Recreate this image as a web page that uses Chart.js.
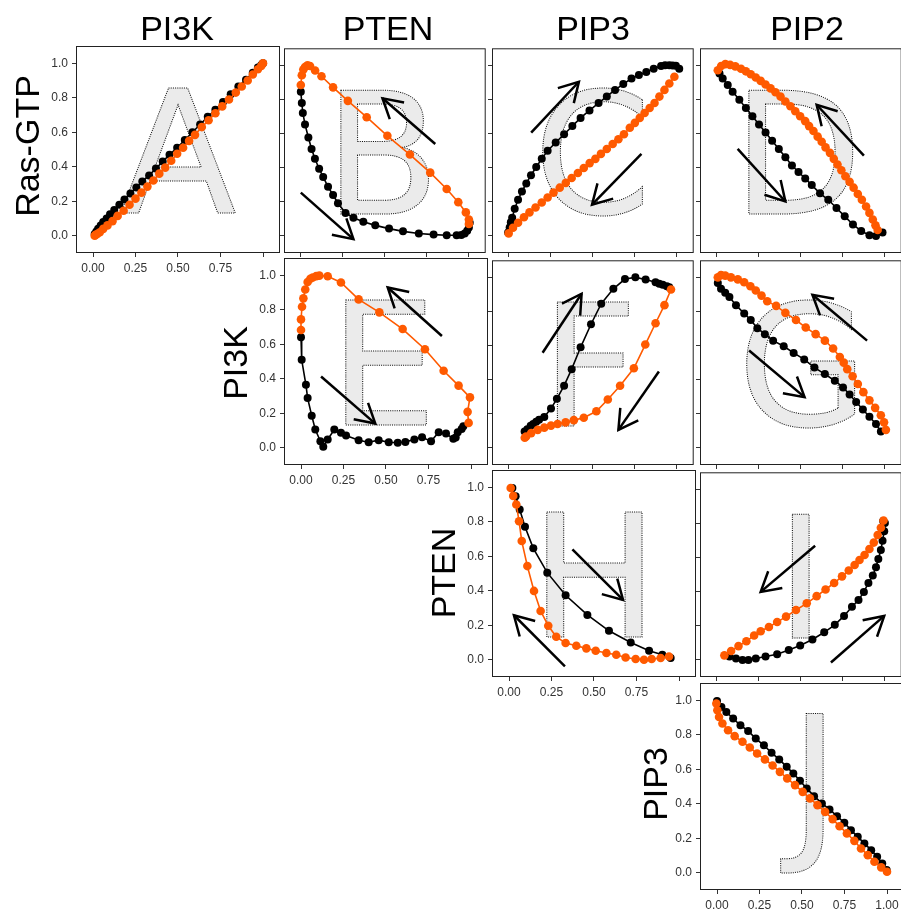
<!DOCTYPE html>
<html>
<head>
<meta charset="utf-8">
<script src="https://cdn.jsdelivr.net/npm/chart.js@4.4.1/dist/chart.umd.min.js"></script>
<style>
  body { margin: 0; background: #fff; width: 901px; height: 910px; overflow: hidden; position: relative; }
  canvas { position: absolute; }
  .lab { position: absolute; width: 200px; height: 40px; line-height: 40px; text-align: center;
         font-family: "Liberation Sans", Arial, sans-serif; font-size: 34px; color: #000; white-space: nowrap; }
</style>
</head>
<body>
<script>
'use strict';
// names
var colNames = ['PI3K', 'PTEN', 'PIP3', 'PIP2'];
var rowNames = ['Ras-GTP', 'PI3K', 'PTEN', 'PIP3'];
var letters = ['A', 'B', 'C', 'D', 'E', 'F', 'G', 'H', 'I', 'J'];

// ticks
var xTicks = [0, 0.25, 0.5, 0.75, 1];
var xTickLabels = ['0.00', '0.25', '0.50', '0.75', '1.00'];
var yTicks = [0, 0.2, 0.4, 0.6, 0.8, 1];
var yTickLabels = ['0.0', '0.2', '0.4', '0.6', '0.8', '1.0'];

// series values [x, y]
var aBlack = [[0.01,0.01],[0.02,0.025],[0.03,0.04],[0.045,0.06],[0.06,0.08],[0.08,0.10],[0.10,0.125],[0.125,0.15],[0.155,0.18],[0.185,0.21],[0.22,0.245],[0.255,0.28],[0.29,0.315],[0.33,0.35],[0.37,0.39],[0.41,0.43],[0.45,0.47],[0.495,0.51],[0.54,0.555],[0.585,0.6],[0.63,0.645],[0.675,0.69],[0.72,0.73],[0.765,0.775],[0.81,0.82],[0.855,0.865],[0.9,0.905],[0.94,0.945],[0.97,0.975],[0.99,0.99],[1.0,1.0]];
var aOrange = [[1.0,1.0],[0.99,0.985],[0.97,0.965],[0.94,0.935],[0.91,0.9],[0.875,0.865],[0.84,0.83],[0.8,0.79],[0.76,0.75],[0.72,0.71],[0.68,0.67],[0.64,0.63],[0.6,0.585],[0.565,0.55],[0.53,0.51],[0.495,0.475],[0.46,0.435],[0.425,0.395],[0.39,0.36],[0.355,0.32],[0.32,0.285],[0.285,0.25],[0.25,0.215],[0.215,0.18],[0.18,0.145],[0.145,0.115],[0.115,0.085],[0.085,0.06],[0.06,0.04],[0.04,0.02],[0.025,0.01],[0.015,0.005],[0.01,0.0]];

var bBlack = [[0.0,0.846],[0.006,0.779],[0.012,0.721],[0.025,0.654],[0.045,0.577],[0.064,0.51],[0.084,0.452],[0.109,0.394],[0.133,0.346],[0.162,0.288],[0.192,0.24],[0.221,0.192],[0.266,0.135],[0.313,0.106],[0.372,0.083],[0.443,0.062],[0.525,0.043],[0.608,0.027],[0.702,0.014],[0.79,0.008],[0.868,0.004],[0.927,0.004],[0.955,0.006],[0.975,0.015],[0.99,0.03],[1.0,0.05],[1.005,0.077]];
var bOrange = [[0.0,0.885],[0.006,0.942],[0.015,0.975],[0.025,0.99],[0.04,1.0],[0.055,0.996],[0.085,0.97],[0.123,0.936],[0.192,0.871],[0.28,0.792],[0.392,0.696],[0.515,0.587],[0.649,0.477],[0.77,0.371],[0.868,0.275],[0.937,0.198],[0.982,0.138],[1.0,0.096],[1.0,0.07]];

var cBlack = [[-0.004,0.02],[0.005,0.05],[0.012,0.08],[0.02,0.106],[0.035,0.16],[0.055,0.212],[0.078,0.26],[0.104,0.308],[0.132,0.356],[0.163,0.404],[0.196,0.452],[0.231,0.5],[0.279,0.548],[0.329,0.596],[0.378,0.644],[0.427,0.692],[0.48,0.736],[0.534,0.779],[0.583,0.818],[0.632,0.856],[0.681,0.89],[0.73,0.923],[0.774,0.944],[0.818,0.961],[0.862,0.98],[0.906,0.996],[0.93,1.0],[0.955,1.0],[0.975,0.999],[0.994,0.998],[1.014,0.98]];
var cOrange = [[0.985,0.933],[0.955,0.894],[0.926,0.856],[0.896,0.817],[0.867,0.779],[0.838,0.75],[0.808,0.721],[0.779,0.692],[0.75,0.663],[0.72,0.634],[0.685,0.596],[0.652,0.567],[0.618,0.539],[0.583,0.51],[0.548,0.481],[0.515,0.452],[0.481,0.427],[0.446,0.398],[0.411,0.369],[0.374,0.34],[0.339,0.311],[0.303,0.283],[0.266,0.254],[0.231,0.225],[0.196,0.196],[0.159,0.167],[0.123,0.138],[0.09,0.11],[0.055,0.077],[0.025,0.048],[-0.001,0.015]];

var dBlack = [[0.016,0.952],[0.035,0.923],[0.065,0.885],[0.094,0.846],[0.134,0.798],[0.173,0.75],[0.212,0.702],[0.251,0.654],[0.29,0.606],[0.329,0.558],[0.369,0.51],[0.408,0.461],[0.447,0.413],[0.486,0.375],[0.526,0.337],[0.565,0.298],[0.614,0.25],[0.663,0.212],[0.712,0.164],[0.761,0.115],[0.81,0.067],[0.859,0.029],[0.908,0.004],[0.947,0.0],[0.986,0.02]];
var dOrange = [[0.006,0.971],[0.026,0.996],[0.051,1.007],[0.079,1.003],[0.11,0.994],[0.144,0.98],[0.173,0.965],[0.202,0.948],[0.232,0.929],[0.261,0.909],[0.29,0.888],[0.32,0.865],[0.349,0.842],[0.379,0.817],[0.408,0.788],[0.438,0.76],[0.467,0.731],[0.496,0.702],[0.526,0.673],[0.549,0.644],[0.575,0.615],[0.6,0.582],[0.624,0.552],[0.647,0.519],[0.673,0.487],[0.696,0.452],[0.718,0.419],[0.741,0.385],[0.765,0.35],[0.79,0.317],[0.814,0.283],[0.839,0.246],[0.863,0.212],[0.888,0.173],[0.908,0.135],[0.928,0.096],[0.944,0.062],[0.957,0.035]];

var eBlack = [[0.0,0.64],[0.004,0.51],[0.029,0.365],[0.039,0.288],[0.063,0.186],[0.084,0.106],[0.114,0.038],[0.131,0.006],[0.157,0.048],[0.196,0.106],[0.235,0.087],[0.265,0.071],[0.339,0.044],[0.398,0.032],[0.457,0.044],[0.516,0.032],[0.569,0.029],[0.614,0.034],[0.667,0.048],[0.712,0.061],[0.765,0.038],[0.81,0.09],[0.853,0.082],[0.896,0.052],[0.91,0.06],[0.922,0.09],[0.945,0.109],[0.955,0.125]];
var eOrange = [[0.0,0.683],[0.0,0.744],[0.006,0.817],[0.014,0.866],[0.025,0.917],[0.039,0.961],[0.055,0.98],[0.069,0.987],[0.09,0.995],[0.108,0.998],[0.157,0.994],[0.235,0.958],[0.339,0.86],[0.461,0.785],[0.598,0.688],[0.729,0.571],[0.839,0.446],[0.927,0.36],[0.994,0.292],[0.98,0.208],[0.986,0.144]];

var fBlack = [[0.094,0.096],[0.11,0.11],[0.13,0.13],[0.145,0.14],[0.163,0.154],[0.18,0.165],[0.211,0.182],[0.251,0.231],[0.286,0.288],[0.329,0.365],[0.374,0.462],[0.427,0.59],[0.489,0.725],[0.55,0.846],[0.622,0.933],[0.691,0.99],[0.753,1.0],[0.814,0.987],[0.873,0.971],[0.895,0.962],[0.916,0.956],[0.94,0.948],[0.955,0.942]];
var fOrange = [[0.965,0.929],[0.926,0.837],[0.873,0.731],[0.812,0.606],[0.744,0.467],[0.662,0.365],[0.589,0.284],[0.521,0.215],[0.446,0.177],[0.387,0.163],[0.338,0.15],[0.29,0.14],[0.251,0.131],[0.211,0.119],[0.172,0.106],[0.133,0.087],[0.103,0.067],[0.095,0.06]];

var gBlack = [[0.006,0.967],[0.025,0.933],[0.05,0.91],[0.075,0.885],[0.114,0.837],[0.163,0.788],[0.202,0.75],[0.241,0.702],[0.286,0.667],[0.335,0.629],[0.398,0.596],[0.457,0.557],[0.52,0.519],[0.581,0.471],[0.643,0.433],[0.702,0.394],[0.751,0.355],[0.79,0.313],[0.829,0.269],[0.869,0.225],[0.908,0.183],[0.947,0.14],[0.976,0.096]];
var gOrange = [[0.006,1.0],[0.025,1.013],[0.05,1.01],[0.084,1.0],[0.125,0.988],[0.163,0.971],[0.2,0.948],[0.232,0.923],[0.266,0.893],[0.3,0.86],[0.353,0.833],[0.408,0.792],[0.471,0.75],[0.529,0.706],[0.588,0.667],[0.643,0.629],[0.692,0.583],[0.732,0.533],[0.755,0.5],[0.776,0.462],[0.808,0.42],[0.839,0.375],[0.872,0.327],[0.908,0.279],[0.942,0.235],[0.976,0.192],[0.995,0.15],[1.006,0.106]];

var hBlack = [[0.02,0.996],[0.039,0.948],[0.063,0.871],[0.094,0.771],[0.143,0.646],[0.225,0.505],[0.333,0.374],[0.461,0.26],[0.588,0.168],[0.716,0.1],[0.824,0.052],[0.902,0.029],[0.951,0.01]];
var hOrange = [[0.01,0.996],[0.025,0.95],[0.043,0.9],[0.059,0.803],[0.075,0.688],[0.108,0.543],[0.147,0.399],[0.186,0.283],[0.231,0.197],[0.278,0.133],[0.333,0.097],[0.396,0.081],[0.455,0.066],[0.51,0.052],[0.573,0.039],[0.631,0.029],[0.686,0.013],[0.745,0.004],[0.794,0.0],[0.839,0.004],[0.892,0.01],[0.941,0.019]];

var iBlack = [[0.075,0.02],[0.114,0.008],[0.153,0.0],[0.188,0.0],[0.232,0.008],[0.29,0.02],[0.359,0.033],[0.428,0.058],[0.496,0.085],[0.569,0.12],[0.639,0.162],[0.702,0.206],[0.757,0.258],[0.804,0.312],[0.843,0.351],[0.875,0.399],[0.902,0.451],[0.928,0.495],[0.947,0.543],[0.961,0.592],[0.976,0.644],[0.986,0.698],[0.996,0.755],[1.0,0.803],[0.99,0.815]];
var iOrange = [[0.045,0.027],[0.085,0.052],[0.129,0.081],[0.176,0.11],[0.222,0.143],[0.261,0.168],[0.31,0.193],[0.359,0.222],[0.412,0.254],[0.471,0.293],[0.535,0.332],[0.594,0.374],[0.647,0.413],[0.698,0.451],[0.745,0.49],[0.785,0.524],[0.82,0.557],[0.849,0.586],[0.879,0.615],[0.908,0.65],[0.934,0.688],[0.957,0.732],[0.976,0.775],[0.992,0.817]];

var jBlack = [[0.0,0.996],[0.026,0.961],[0.055,0.932],[0.095,0.894],[0.138,0.855],[0.183,0.822],[0.228,0.778],[0.276,0.739],[0.321,0.695],[0.366,0.657],[0.41,0.614],[0.449,0.576],[0.488,0.533],[0.528,0.489],[0.571,0.444],[0.617,0.402],[0.662,0.367],[0.706,0.328],[0.749,0.29],[0.788,0.247],[0.828,0.208],[0.867,0.17],[0.907,0.131],[0.942,0.093],[0.972,0.054],[0.998,0.016]];
var jOrange = [[-0.004,0.981],[0.002,0.942],[0.012,0.903],[0.032,0.865],[0.065,0.826],[0.104,0.792],[0.15,0.759],[0.193,0.726],[0.236,0.691],[0.282,0.657],[0.327,0.622],[0.37,0.585],[0.413,0.547],[0.459,0.508],[0.504,0.469],[0.547,0.431],[0.591,0.392],[0.636,0.353],[0.68,0.311],[0.721,0.27],[0.764,0.228],[0.808,0.185],[0.847,0.141],[0.887,0.102],[0.926,0.064],[0.966,0.031],[1.0,0.006]];

// arrows [x0, y0, x1, y1], head at (x1, y1)
var bArrows = [[0.8,0.539,0.486,0.807],[0.0,0.254,0.313,-0.019]];
var cArrows = [[0.133,0.606,0.417,0.904],[0.789,0.481,0.495,0.183]];
var dArrows = [[0.875,0.471,0.594,0.769],[0.124,0.51,0.408,0.202]];
var eArrows = [[0.829,0.648,0.51,0.929],[0.118,0.413,0.437,0.14]];
var fArrows = [[0.201,0.558,0.433,0.904],[0.893,0.448,0.652,0.106]];
var gArrows = [[0.894,0.629,0.569,0.898],[0.192,0.571,0.522,0.298]];
var hArrows = [[0.373,0.64,0.671,0.347],[0.329,-0.038,0.029,0.258]];
var iArrows = [[0.585,0.669,0.261,0.399],[0.679,-0.015,0.996,0.258]];

// layout
var FONT = '"Liberation Sans", Arial, sans-serif';
var LETTER_FONT = '"DejaVu Sans", sans-serif';
var W = 204, H = 207;
var colLeft = [76, 284, 492, 700];
var rowTop = [46, 258, 470, 683];
var colTitleX = [177, 388, 593, 807];
var rowLabelX = [27, 235, 443, 655];
var rowLabelY = [146, 363, 573, 784];

var panels = [
  {row: 0, col: 0, black: aBlack, orange: aOrange, arrows: []},
  {row: 0, col: 1, black: bBlack, orange: bOrange, arrows: bArrows},
  {row: 0, col: 2, black: cBlack, orange: cOrange, arrows: cArrows},
  {row: 0, col: 3, black: dBlack, orange: dOrange, arrows: dArrows},
  {row: 1, col: 1, black: eBlack, orange: eOrange, arrows: eArrows},
  {row: 1, col: 2, black: fBlack, orange: fOrange, arrows: fArrows},
  {row: 1, col: 3, black: gBlack, orange: gOrange, arrows: gArrows},
  {row: 2, col: 2, black: hBlack, orange: hOrange, arrows: hArrows},
  {row: 2, col: 3, black: iBlack, orange: iOrange, arrows: iArrows},
  {row: 3, col: 3, black: jBlack, orange: jOrange, arrows: []}
];

Chart.defaults.font.family = FONT;
Chart.defaults.font.size = 12;
Chart.defaults.color = '#333';

// big letter, arrows, white cover and box
var decor = {
  id: 'decor',
  beforeDraw: function (chart, args, o) {
    if (!o.cover) return;
    var ctx = chart.ctx;
    ctx.save();
    ctx.fillStyle = '#fff';
    ctx.fillRect(0, chart.chartArea.top - 1, chart.width, chart.height);
    ctx.restore();
  },
  beforeDatasetsDraw: function (chart, args, o) {
    var ctx = chart.ctx, xs = chart.scales.x, ys = chart.scales.y, a = chart.chartArea;
    ctx.save();
    ctx.beginPath();
    ctx.rect(a.left, a.top, a.right - a.left, a.bottom - a.top);
    ctx.clip();

    var isJ = o.letter === 'J';
    var fit = isJ ? [0.0, 0.92] : [0.13, 0.855];
    ctx.font = '100px ' + LETTER_FONT;
    var ref = ctx.measureText(isJ ? 'J' : 'H');
    var k = (ref.actualBoundingBoxAscent + ref.actualBoundingBoxDescent) / 100;
    var yb = ys.getPixelForValue(fit[0]), yt = ys.getPixelForValue(fit[1]);
    var size = (yb - yt) / k;
    ctx.font = size + 'px ' + LETTER_FONT;
    var m = ctx.measureText(o.letter);
    var base = yb - (isJ ? m.actualBoundingBoxDescent : 0);
    var x0 = xs.getPixelForValue(0.5) - (m.actualBoundingBoxRight - m.actualBoundingBoxLeft) / 2;
    ctx.textAlign = 'left';
    ctx.textBaseline = 'alphabetic';
    ctx.fillStyle = '#ebebeb';
    ctx.fillText(o.letter, x0, base);
    ctx.setLineDash([1, 1.2]);
    ctx.lineWidth = 1;
    ctx.strokeStyle = '#000';
    ctx.strokeText(o.letter, x0, base);

    ctx.setLineDash([]);
    ctx.strokeStyle = '#000';
    ctx.lineWidth = 2.5;
    o.arrows.forEach(function (ar) {
      var px0 = xs.getPixelForValue(ar[0]), py0 = ys.getPixelForValue(ar[1]);
      var px1 = xs.getPixelForValue(ar[2]), py1 = ys.getPixelForValue(ar[3]);
      var ang = Math.atan2(py1 - py0, px1 - px0);
      ctx.beginPath();
      ctx.moveTo(px0, py0);
      ctx.lineTo(px1, py1);
      ctx.stroke();
      ctx.beginPath();
      ctx.moveTo(px1 - 22 * Math.cos(ang - 0.52), py1 - 22 * Math.sin(ang - 0.52));
      ctx.lineTo(px1, py1);
      ctx.lineTo(px1 - 22 * Math.cos(ang + 0.52), py1 - 22 * Math.sin(ang + 0.52));
      ctx.stroke();
    });
    ctx.restore();
  },
  afterDraw: function (chart) {
    var ctx = chart.ctx, a = chart.chartArea;
    ctx.save();
    ctx.strokeStyle = '#222';
    ctx.lineWidth = 1;
    ctx.strokeRect(a.left + 0.5, a.top + 0.5, a.right - a.left - 1, a.bottom - a.top - 1);
    ctx.restore();
  }
};

function axis(vals, labels, showLabels, size) {
  return {
    type: 'linear', min: -0.1, max: 1.1,
    afterBuildTicks: function (s) { s.ticks = vals.map(function (v) { return {value: v}; }); },
    afterFit: function (s) { if (s.isHorizontal()) { s.height = size; } else { s.width = size; } },
    grid: {drawOnChartArea: false, drawTicks: true, tickLength: 4, color: '#333', lineWidth: 1},
    border: {display: false},
    ticks: {display: showLabels, padding: 4, color: '#333', font: {size: 12},
      callback: function (v, i) { return labels[i]; }}
  };
}

function toXY(arr) {
  return arr.map(function (p) { return {x: p[0], y: p[1]}; });
}

function makePanel(p, idx) {
  var diag = p.row === p.col;
  var ml = diag ? 42 : 5, mb = diag ? 28 : 5;
  var padT = diag ? 14 : 2, padR = diag ? 16 : 2, padB = 2;
  var cv = document.createElement('canvas');
  cv.width = ml + W + padR;
  cv.height = padT + H + mb + padB;
  cv.style.left = (colLeft[p.col] - ml) + 'px';
  cv.style.top = (rowTop[p.row] - padT) + 'px';
  document.body.appendChild(cv);

  new Chart(cv, {
    type: 'scatter',
    data: {
      datasets: [
        {data: toXY(p.orange), showLine: true, borderColor: '#ff5a00', backgroundColor: '#ff5a00',
          borderWidth: 1.6, pointRadius: 4.3, pointBorderWidth: 0, pointHoverRadius: 4.3},
        {data: toXY(p.black), showLine: true, borderColor: '#000', backgroundColor: '#000',
          borderWidth: 1.6, pointRadius: 4, pointBorderWidth: 0, pointHoverRadius: 4}
      ]
    },
    options: {
      responsive: false,
      animation: false,
      devicePixelRatio: 1,
      events: [],
      layout: {padding: {left: 0, top: padT, right: padR, bottom: padB}},
      plugins: {
        legend: {display: false},
        tooltip: {enabled: false},
        decor: {letter: letters[idx], arrows: p.arrows, cover: diag}
      },
      scales: {
        x: axis(xTicks, xTickLabels, diag, mb),
        y: axis(yTicks, yTickLabels, diag, ml)
      }
    },
    plugins: [decor]
  });
}

panels.forEach(makePanel);

// column and row titles
colNames.forEach(function (name, c) {
  var d = document.createElement('div');
  d.className = 'lab';
  d.textContent = name;
  d.style.left = (colTitleX[c] - 100) + 'px';
  d.style.top = '8px';
  document.body.appendChild(d);
});
rowNames.forEach(function (name, r) {
  var d = document.createElement('div');
  d.className = 'lab';
  d.textContent = name;
  d.style.left = (rowLabelX[r] - 100) + 'px';
  d.style.top = (rowLabelY[r] - 20) + 'px';
  d.style.transform = 'rotate(-90deg)';
  document.body.appendChild(d);
});
</script>
</body>
</html>
